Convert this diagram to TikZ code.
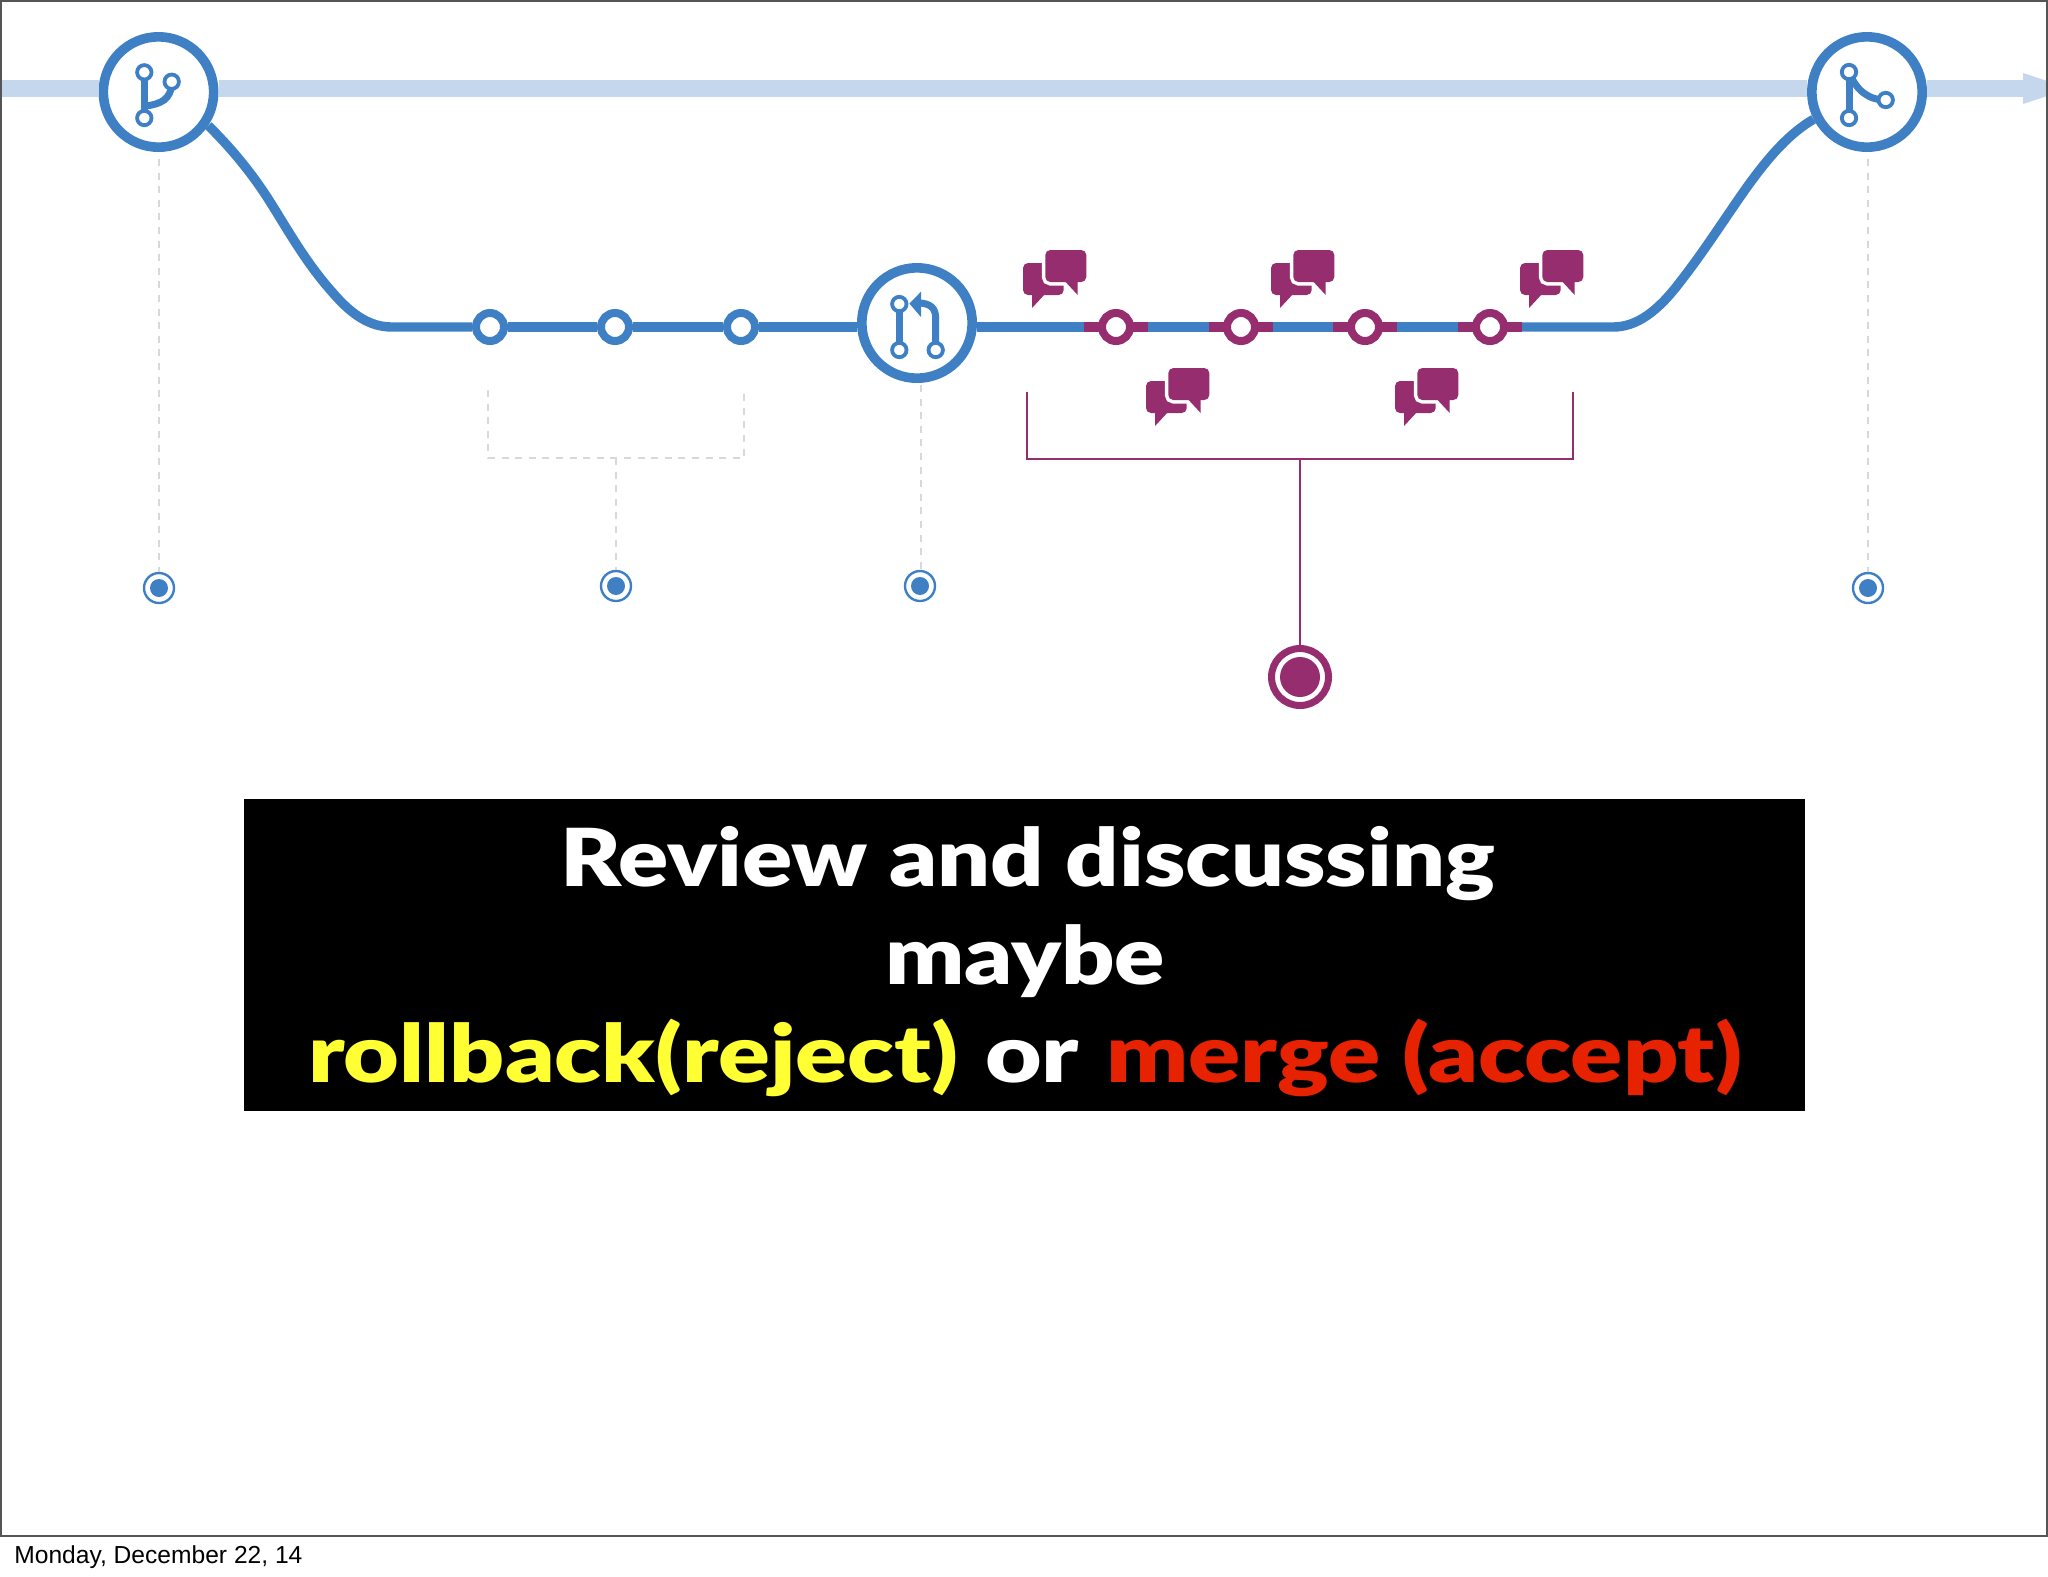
\documentclass[tikz,border=0pt]{standalone}
\usepackage{graphicx}
\usepackage{fontspec}
\setmainfont{Lato}[BoldFont={Lato Black}]
\newfontfamily\footfont{Liberation Sans}
\definecolor{flowblue}{HTML}{3F80C5}
\definecolor{paleblue}{HTML}{C5D7EC}
\definecolor{plum}{HTML}{952D6E}
\definecolor{dashgray}{HTML}{D8D8D8}
\definecolor{frameline}{HTML}{555555}
\definecolor{ryellow}{HTML}{FFFF33}
\definecolor{rred}{HTML}{E62200}
\newsavebox{\fitbox}
\newcommand{\fitw}[2]{\sbox{\fitbox}{#2}\pgfmathsetmacro{\fitsx}{#1/\the\wd\fitbox}\scalebox{\fitsx}[1]{\usebox{\fitbox}}}
\tikzset{
  x=0.5pt,y=-0.5pt,
  hub/.style={circle,draw=flowblue,fill=white,line width=4.8pt,minimum size=55.2pt,inner sep=0pt},
  commit/.style={circle,draw=#1,fill=white,line width=4pt,minimum size=14pt,inner sep=0pt},
  target/.style={circle,draw=flowblue,fill=white,line width=1.2pt,minimum size=15pt,inner sep=0pt},
  flow/.style={draw=flowblue,line width=4.7pt},
  seg/.style={draw=plum,line width=4.7pt},
  trunk/.style={draw=paleblue,line width=8.5pt},
  guide/.style={draw=dashgray,line width=1pt,dash pattern=on 3.5pt off 3.3pt},
  bracket/.style={draw=plum,line width=1.2pt},
  iconline/.style={draw=flowblue,line width=3.5pt},
  iconport/.style={circle,draw=flowblue,fill=white,line width=1.9pt,minimum size=7.2pt,inner sep=0pt},
  talk/.pic={
    \fill[plum,rounded corners=2.5pt] (0,13) rectangle (40.7,45);
    \fill[plum] (9,44) -- (9,58) -- (22,44) -- cycle;
    \draw[white,fill=white,line width=3.5pt,rounded corners=2.5pt] (22.3,0) rectangle (63.3,32);
    \draw[white,fill=white,line width=3.5pt] (41.7,31) -- (54.7,45) -- (54.7,31) -- cycle;
    \fill[plum,rounded corners=2.5pt] (22.3,0) rectangle (63.3,32);
    \fill[plum] (41.7,31) -- (54.7,45) -- (54.7,31) -- cycle;
  },
  big/.style={font=\fontsize{40}{40}\selectfont\bfseries,inner sep=0pt,outer sep=0pt,anchor=base west},
}
\begin{document}
\begin{tikzpicture}
\useasboundingbox (0,0) rectangle (2048,1576);

% trunk under the hubs
\coordinate (tstart) at (0,88.5);
\coordinate (tend) at (2024,88.5);

\node[hub] (c1) at (158.5,92) {};
\node[hub] (c2) at (917,323) {};
\node[hub] (c3) at (1867,92) {};
\foreach \n/\x in {k1/490,k2/615,k3/741}{\node[commit=flowblue] (\n) at (\x,327) {};}
\foreach \n/\x in {m1/1116,m2/1241,m3/1365,m4/1490}{\node[commit=plum] (\n) at (\x,327) {};}
\node[target] (d1) at (159,588) {}; \fill[flowblue] (d1) circle (4.5pt);
\node[target] (d2) at (616,586) {}; \fill[flowblue] (d2) circle (4.5pt);
\node[target] (d3) at (920,586) {}; \fill[flowblue] (d3) circle (4.5pt);
\node[target] (d4) at (1868,588) {}; \fill[flowblue] (d4) circle (4.5pt);
\node[circle,draw=plum,fill=white,line width=3.5pt,minimum size=28.5pt,inner sep=0pt] (d5) at (1300,677) {};
\fill[plum] (d5) circle (10pt);

\path[trunk] (tstart) -- (c1.west |- tstart);
\path[trunk] (c1.east |- tstart) -- (c3.west |- tstart);
\path[trunk] (c3.east |- tstart) -- (tend);
\fill[paleblue] (2023,73) -- (2047,81) -- (2047,96) -- (2023,104) -- cycle;
\draw[frameline,line width=1pt] (1,1) rectangle (2047,1536);

% flow
\coordinate (fl) at (392,327);
\coordinate (fr) at (1613,327);
\path[flow] (c1.-34) .. controls (228,145) and (248,168) .. (267,197) .. controls (285,225) and (305,262) .. (333,293) .. controls (352,315) and (370,327) .. (fl) -- (k1.west);
\path[flow] (k1.east) -- (k2.west);
\path[flow] (k2.east) -- (k3.west);
\path[flow] (k3.east) -- (c2.west |- k3);
\path[flow] (c2.east |- m1) -- (m1.west);
\path[flow] (m1.east) -- (m2.west);
\path[flow] (m2.east) -- (m3.west);
\path[flow] (m3.east) -- (m4.west);
\path[flow] (m4.east) -- (fr) .. controls (1637,327) and (1658,311) .. (1680,282) .. controls (1705,250) and (1725,218) .. (1747,187) .. controls (1770,155) and (1790,133) .. (c3.207);
\foreach \x in {1116,1241,1365,1490}{
  \coordinate (sl) at (\x-32,327); \coordinate (sr) at (\x+32,327);
  \path[seg] (sl) -- (\x-17,327);
  \path[seg] (\x+17,327) -- (sr);
}

% guides
\path[guide] (159,159) -- (d1.north);
\path[guide] (1868,159) -- (d4.north);
\path[guide] (921,385) -- (921,570);
\coordinate (gl) at (488,390); \coordinate (gr) at (744,390);
\coordinate (gj) at (616,458);
\path[guide] (gl) -- (488,458) -- (744,458) -- (gr);
\path[guide] (gj) -- (d2.north);
\coordinate (bl) at (1027,392); \coordinate (br) at (1573,392);
\coordinate (bj) at (1300,459);
\path[bracket] (bl) -- (1027,459) -- (1573,459) -- (br);
\path[bracket] (bj) -- (d5.north);

% talk icons
\pic at (1023,250) {talk};
\pic at (1271,250) {talk};
\pic at (1520,250) {talk};
\pic at (1146,368) {talk};
\pic at (1395,368) {talk};

% branch icon
\coordinate (a1) at (144.3,72.3);
\coordinate (a2) at (144.3,118);
\coordinate (a3) at (171.7,81.7);
\path[iconline] (a1) -- (a2);
\path[iconline] (a3) .. controls (171.7,100) and (160,104) .. (146,106);
\node[iconport] at (a1) {}; \node[iconport] at (a2) {}; \node[iconport] at (a3) {};

% merge icon
\coordinate (b1) at (1849,72);
\coordinate (b2) at (1849,118);
\coordinate (b3) at (1885.7,100);
\path[iconline] (b1) -- (b2);
\path[iconline] (b1) .. controls (1856,90) and (1868,100) .. (b3);
\node[iconport] at (b1) {}; \node[iconport] at (b2) {}; \node[iconport] at (b3) {};

% pr icon
\coordinate (e1) at (899.3,304);
\coordinate (e2) at (899.3,350);
\coordinate (e3) at (935.7,350);
\path[iconline] (e1) -- (e2);
\path[iconline] (e3) -- (935.7,318) .. controls (935.7,308) and (930,303) .. (918,303);
\fill[flowblue] (909.3,303.5) -- (921,291.7) -- (921,317) -- cycle;
\node[iconport] at (e1) {}; \node[iconport] at (e2) {}; \node[iconport] at (e3) {};

% black box
\fill[black] (244,799) rectangle (1805,1111);
\node[big,text=white] (l1) at (560,886) {\fitw{467.5}{Review and discussing}};
\node[big,text=white] (l2) at (885,984) {\fitw{140}{maybe}};
\node[big,text=ryellow] (l3a) at (308,1082) {\fitw{325}{rollback(reject)}};
\node[big,text=white] (l3b) at (985,1082) {\fitw{47}{or}};
\node[big,text=rred] (l3c) at (1106,1082) {\fitw{318}{merge (accept)}};

\node[font=\footfont\fontsize{12.3}{12.3}\selectfont,anchor=base west,inner sep=0pt,text=black] (foot) at (14,1563) {Monday, December 22, 14};
\end{tikzpicture}
\end{document}
